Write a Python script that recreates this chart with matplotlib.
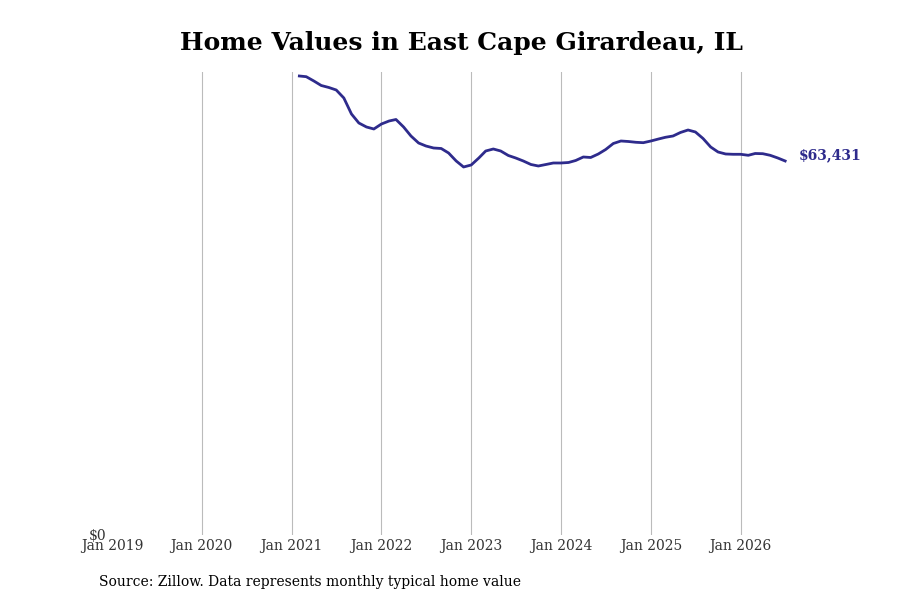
import numpy as np
import pandas as pd
import matplotlib
matplotlib.use("Agg")
from matplotlib import pyplot as plt
import matplotlib.dates as mdates

plt.rcParams['font.family'] = 'DejaVu Serif'

# monthly typical home value, Feb 2021 - Jul 2026
dates = pd.date_range("2021-02-01", "2026-07-01", freq="MS")
values = [77846, 77728, 76998, 76235, 75896, 75472, 74115, 71402, 69875, 69197, 68858,
          69706, 70214, 70469, 69197, 67670, 66483, 65974, 65635, 65550, 64787, 63430, 62413,
          62752, 63939, 65126, 65466, 65126, 64363, 63939, 63430, 62837, 62582, 62837, 63091,
          63091, 63176, 63515, 64109, 64024, 64618, 65381, 66398, 66822, 66738, 66602, 66534,
          66822, 67162, 67450, 67670, 68264, 68688, 68349, 67246, 65805, 64957, 64618, 64567,
          64567, 64397, 64702, 64668, 64397, 63939, 63431]
years = list(range(2019, 2027))
tick_labels = ["Jan %d" % y for y in years]

line_color = "#2e2b8c"

fig = plt.figure(figsize=(9, 6), dpi=100)
ax = fig.add_axes([112/900, 65/600, (810-112)/900, 463/600])

ax.plot(dates, values, color=line_color, linewidth=2)

x0 = mdates.date2num(pd.Timestamp("2019-01-01"))
px_per_day = 89.8 / 365.25
ax.set_xlim(x0, x0 + (810 - 112) / px_per_day)
ax.set_ylim(0, max(values) * 1.0087)

ticks = [pd.Timestamp("%d-01-01" % y) for y in years]
ax.set_xticks(ticks)
ax.set_xticklabels(tick_labels, fontsize=10, color="#333333")
ax.set_yticks([0])
ax.set_yticklabels(["$0"], fontsize=10, color="#333333")
ax.tick_params(axis="both", length=0)
ax.tick_params(axis="x", pad=3)
ax.tick_params(axis="y", pad=4)

for t in ticks[1:]:
    ax.axvline(t, color="#bbbbbb", linewidth=0.8, zorder=0)

for s in ax.spines.values():
    s.set_visible(False)

ax.annotate("$%s" % format(values[-1], ","), xy=(dates[-1], values[-1]),
            xytext=(10, 4), textcoords="offset points", fontsize=10,
            fontweight="bold", color=line_color, va="center", ha="left")

fig.text(461/900, 1 - 43/600, "Home Values in East Cape Girardeau, IL",
         fontsize=18, fontweight="bold", ha="center", va="center")
fig.text(99/900, 1 - 582/600, "Source: Zillow. Data represents monthly typical home value",
         fontsize=10, ha="left", va="center")

fig.savefig("out.png", dpi=100)
